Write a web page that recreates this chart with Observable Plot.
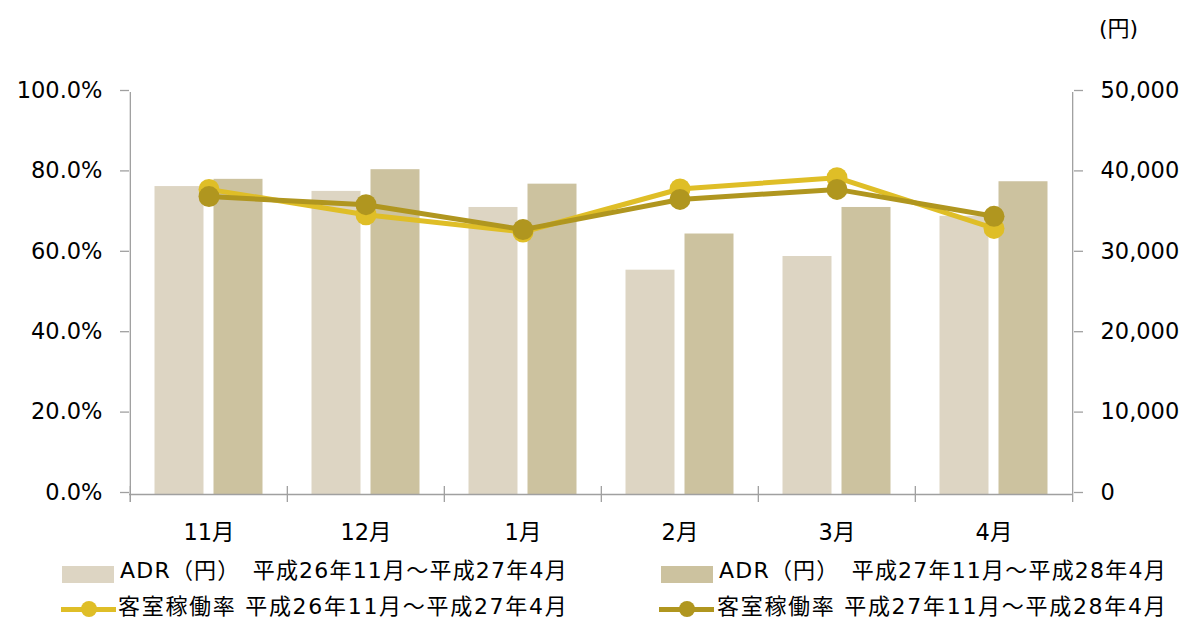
<!DOCTYPE html>
<html><head><meta charset="utf-8">
<script src="https://cdn.jsdelivr.net/npm/d3@7"></script>
<script src="https://cdn.jsdelivr.net/npm/@observablehq/plot@0.6"></script>
<style>
body{margin:0;background:#fff;}
#wrap{position:relative;width:1186px;height:620px;font-family:'DejaVu Sans','Noto Sans CJK JP',sans-serif;color:#000;overflow:hidden;}
.lg{position:absolute;font-size:22px;letter-spacing:1.2px;line-height:24px;white-space:nowrap;}
.lg2{letter-spacing:1.7px;}
.sw{position:absolute;}
.unit{position:absolute;left:1099px;top:10px;font-size:22px;}
</style></head>
<body><div id="wrap"></div>
<script>
const months = ["11月","12月","1月","2月","3月","4月"];
const adrPrev = [38300, 37700, 35700, 27900, 29600, 34600];
const adrCurr = [39200, 40400, 38600, 32400, 35700, 38900];
const occPrev = [75.9, 69.6, 65.3, 76.0, 78.8, 66.2];
const occCurr = [74.1, 72.1, 65.9, 73.4, 75.9, 69.2];
const leftTicks = [0, 20, 40, 60, 80, 100];
const rightTicks = [0, 10000, 20000, 30000, 40000, 50000];
const seriesNames = [
  "ADR（円）　平成26年11月～平成27年4月",
  "ADR（円）　平成27年11月～平成28年4月",
  "客室稼働率 平成26年11月～平成27年4月",
  "客室稼働率 平成27年11月～平成28年4月"
];
const colors = ["#ddd5c3", "#ccc29f", "#dfbe27", "#b0961f"];

const W = 1186, H = 545, mL = 129, mR = 113, mT = 92, mB = 51;
const step = (W - mL - mR) / months.length;
const bw = 49;
const pin = 1 - bw / step;

const prevData = months.map((m, i) => ({month: m, adr: adrPrev[i], occ: occPrev[i]}));
const currData = months.map((m, i) => ({month: m, adr: adrCurr[i], occ: occCurr[i]}));

const chart = Plot.plot({
  width: W, height: H,
  marginLeft: mL, marginRight: mR, marginTop: mT, marginBottom: mB,
  style: {fontFamily: "'DejaVu Sans','Noto Sans CJK JP',sans-serif", fontSize: "22.5px", color: "#000", background: "#fff"},
  x: {type: "band", domain: months, paddingInner: pin, paddingOuter: pin / 2, label: null},
  y: {domain: [0, 100], label: null},
  marks: [
    Plot.barY(prevData, {x: "month", y: d => d.adr / 500, fill: colors[0], dx: -29.5}),
    Plot.barY(currData, {x: "month", y: d => d.adr / 500, fill: colors[1], dx: 29.5}),
    Plot.ruleY([0], {stroke: "#a0a0a0", strokeWidth: 1.3}),
    Plot.ruleX(months, {x: d => d, dx: -step / 2, y1: 0, y2: 0, insetTop: -8, insetBottom: -8, stroke: "#a0a0a0", strokeWidth: 1.3}),
    Plot.ruleX([months[0]], {x: d => d, dx: -step / 2, y1: 100, y2: 0, insetBottom: -8, stroke: "#a0a0a0", strokeWidth: 1.3}),
    Plot.ruleX([months[months.length - 1]], {x: d => d, dx: step / 2, y1: 100, y2: 0, insetBottom: -8, stroke: "#a0a0a0", strokeWidth: 1.3}),
    Plot.axisY({anchor: "left", ticks: leftTicks, tickFormat: d => d.toFixed(1) + "%", tickSize: 9, tickPadding: 18, stroke: "#a0a0a0", strokeWidth: 1.3, fill: "#000", label: null, dy: -2}),
    Plot.axisY({anchor: "right", ticks: rightTicks.map(v => v / 500), tickFormat: v => d3.format(",")(Math.round(v * 500)), tickSize: 9, tickPadding: 18, stroke: "#a0a0a0", strokeWidth: 1.3, fill: "#000", label: null, dy: -2}),
    Plot.axisX({tickSize: 0, tickPadding: 30, fill: "#000", label: null}),
    Plot.line(prevData, {x: "month", y: "occ", stroke: colors[2], strokeWidth: 5}),
    Plot.dot(prevData, {x: "month", y: "occ", fill: colors[2], r: 10.5}),
    Plot.line(currData, {x: "month", y: "occ", stroke: colors[3], strokeWidth: 5}),
    Plot.dot(currData, {x: "month", y: "occ", fill: colors[3], r: 10.5})
  ]
});

const wrap = document.getElementById("wrap");
wrap.appendChild(chart);

const unit = document.createElement("div");
unit.className = "unit";
unit.textContent = "(円)";
wrap.appendChild(unit);

function addSwatch(left, top, color) {
  const s = document.createElement("div");
  s.className = "sw";
  Object.assign(s.style, {left: left + "px", top: top + "px", width: "52px", height: "17px", background: color});
  wrap.appendChild(s);
}
function addLineSym(left, cy, color) {
  const l = document.createElement("div");
  l.className = "sw";
  Object.assign(l.style, {left: left + "px", top: (cy - 2.5) + "px", width: "55px", height: "5px", background: color});
  wrap.appendChild(l);
  const d = document.createElement("div");
  d.className = "sw";
  Object.assign(d.style, {left: (left + 27.5 - 8) + "px", top: (cy - 8) + "px", width: "16px", height: "16px", borderRadius: "50%", background: color});
  wrap.appendChild(d);
}
function addText(left, cy, txt, extra) {
  const t = document.createElement("div");
  t.className = "lg" + (extra ? " " + extra : "");
  t.style.left = left + "px";
  t.style.top = (cy - 12) + "px";
  t.textContent = txt;
  wrap.appendChild(t);
}
addSwatch(62, 566, colors[0]); addText(120, 571, seriesNames[0]);
addSwatch(661, 566, colors[1]); addText(719, 571, seriesNames[1]);
addLineSym(61, 609, colors[2]); addText(118, 607, seriesNames[2], "lg2");
addLineSym(659, 609, colors[3]); addText(717, 607, seriesNames[3], "lg2");
</script>
</body></html>
